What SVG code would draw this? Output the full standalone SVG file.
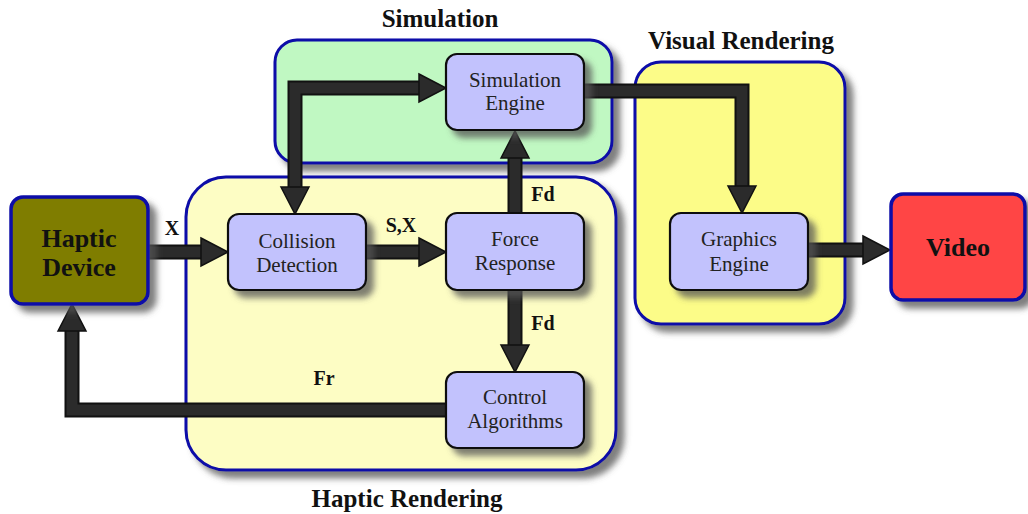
<svg xmlns="http://www.w3.org/2000/svg" width="1028" height="514" viewBox="0 0 1028 514" font-family="'Liberation Serif', 'Times New Roman', 'DejaVu Serif', serif">
  <style>
    text { font-family: 'Liberation Serif', 'Times New Roman', 'DejaVu Serif', serif; }
    .title { font-weight: bold; font-size: 25px; fill: #111; text-anchor: middle; }
    .lbl { font-weight: bold; font-size: 20px; fill: #111; text-anchor: middle; }
    .ntext { font-size: 21px; fill: #222; text-anchor: middle; }
    .btext { font-weight: bold; font-size: 26px; fill: #111; text-anchor: middle; }
    .area { stroke: #0a0aa8; stroke-width: 3; filter: url(#shadow); }
    .box { fill: #c2c2fd; stroke: #111; stroke-width: 2.2; filter: url(#shadow); }
    .ext { stroke: #0a0aa8; stroke-width: 3.5; filter: url(#shadow); }
    .wire { fill: none; stroke: #111; stroke-width: 15; stroke-linejoin: miter; }
    .wire-in { fill: none; stroke: #2b2b2b; stroke-width: 11; stroke-linejoin: miter; }
  </style>
  <defs>
    <filter id="shadow" x="-20%" y="-20%" width="150%" height="150%">
      <feDropShadow dx="7" dy="7" stdDeviation="3" flood-color="#555" flood-opacity="0.75"/>
    </filter>
    <marker id="head" markerUnits="userSpaceOnUse" viewBox="0 -15 28 30" refX="0" refY="0" markerWidth="28" markerHeight="30" orient="auto-start-reverse" overflow="visible">
      <path d="M0,-14 L27,0 L0,14 z" fill="#2b2b2b" stroke="#111" stroke-width="1.5" stroke-linejoin="miter"/>
    </marker>
  </defs>

  <!-- grouping areas -->
  <g id="area-simulation">
    <rect class="area" x="275" y="40" width="337" height="123" rx="22" fill="#c0f8c2"/>
    <text class="title" x="440" y="27">Simulation</text>
  </g>
  <g id="area-visual">
    <rect class="area" x="635" y="62" width="210" height="262" rx="26" fill="#fcfc88"/>
    <text class="title" x="741" y="49">Visual Rendering</text>
  </g>
  <g id="area-haptic">
    <rect class="area" x="186" y="177" width="430" height="293" rx="40" fill="#fdfdc4"/>
    <text class="title" x="407" y="507">Haptic Rendering</text>
  </g>

  <!-- connectors -->
  <g id="connectors">
    <g id="c-device-collision">
      <path class="wire" d="M148,252 H201"/>
      <path class="wire-in" d="M148,252 H201" marker-end="url(#head)"/>
    </g>
    <g id="c-collision-force">
      <path class="wire" d="M366,252 H419"/>
      <path class="wire-in" d="M366,252 H419" marker-end="url(#head)"/>
    </g>
    <g id="c-force-simulation">
      <path class="wire" d="M515,213 V158"/>
      <path class="wire-in" d="M515,213 V158" marker-end="url(#head)"/>
    </g>
    <g id="c-force-control">
      <path class="wire" d="M515,290 V345"/>
      <path class="wire-in" d="M515,290 V345" marker-end="url(#head)"/>
    </g>
    <g id="c-collision-simulation">
      <path class="wire" d="M295,187 V88 H419"/>
      <path class="wire-in" d="M295,187 V88 H419" marker-start="url(#head)" marker-end="url(#head)"/>
    </g>
    <g id="c-simulation-graphics">
      <path class="wire" d="M584,91 H742 V186"/>
      <path class="wire-in" d="M584,91 H742 V186" marker-end="url(#head)"/>
    </g>
    <g id="c-graphics-video">
      <path class="wire" d="M808,250 H863"/>
      <path class="wire-in" d="M808,250 H863" marker-end="url(#head)"/>
    </g>
    <g id="c-control-device">
      <path class="wire" d="M446,410 H72 V331"/>
      <path class="wire-in" d="M446,410 H72 V331" marker-end="url(#head)"/>
    </g>
    <text class="lbl" x="172" y="235">X</text>
    <text class="lbl" x="401" y="232">S,X</text>
    <text class="lbl" x="543" y="201">Fd</text>
    <text class="lbl" x="543" y="330">Fd</text>
    <text class="lbl" x="324" y="385">Fr</text>
  </g>

  <!-- nodes -->
  <g id="haptic-device">
    <rect class="ext" x="11" y="197" width="137" height="107" rx="12" fill="#7f7d00"/>
    <text class="btext" x="79" y="247">Haptic</text>
    <text class="btext" x="79" y="276">Device</text>
  </g>
  <g id="collision-detection">
    <rect class="box" x="228" y="214" width="138" height="76" rx="11"/>
    <text class="ntext" x="297" y="248">Collision</text>
    <text class="ntext" x="297" y="272">Detection</text>
  </g>
  <g id="force-response">
    <rect class="box" x="446" y="213" width="138" height="77" rx="11"/>
    <text class="ntext" x="515" y="246">Force</text>
    <text class="ntext" x="515" y="270">Response</text>
  </g>
  <g id="simulation-engine">
    <rect class="box" x="446" y="54" width="138" height="76" rx="11"/>
    <text class="ntext" x="515" y="87">Simulation</text>
    <text class="ntext" x="515" y="110">Engine</text>
  </g>
  <g id="control-algorithms">
    <rect class="box" x="446" y="372" width="138" height="76" rx="11"/>
    <text class="ntext" x="515" y="404">Control</text>
    <text class="ntext" x="515" y="428">Algorithms</text>
  </g>
  <g id="graphics-engine">
    <rect class="box" x="670" y="213" width="138" height="77" rx="11"/>
    <text class="ntext" x="739" y="246">Graphics</text>
    <text class="ntext" x="739" y="271">Engine</text>
  </g>
  <g id="video">
    <rect class="ext" x="891" y="194" width="134" height="106" rx="12" fill="#ff4444"/>
    <text class="btext" x="958" y="256">Video</text>
  </g>
</svg>
